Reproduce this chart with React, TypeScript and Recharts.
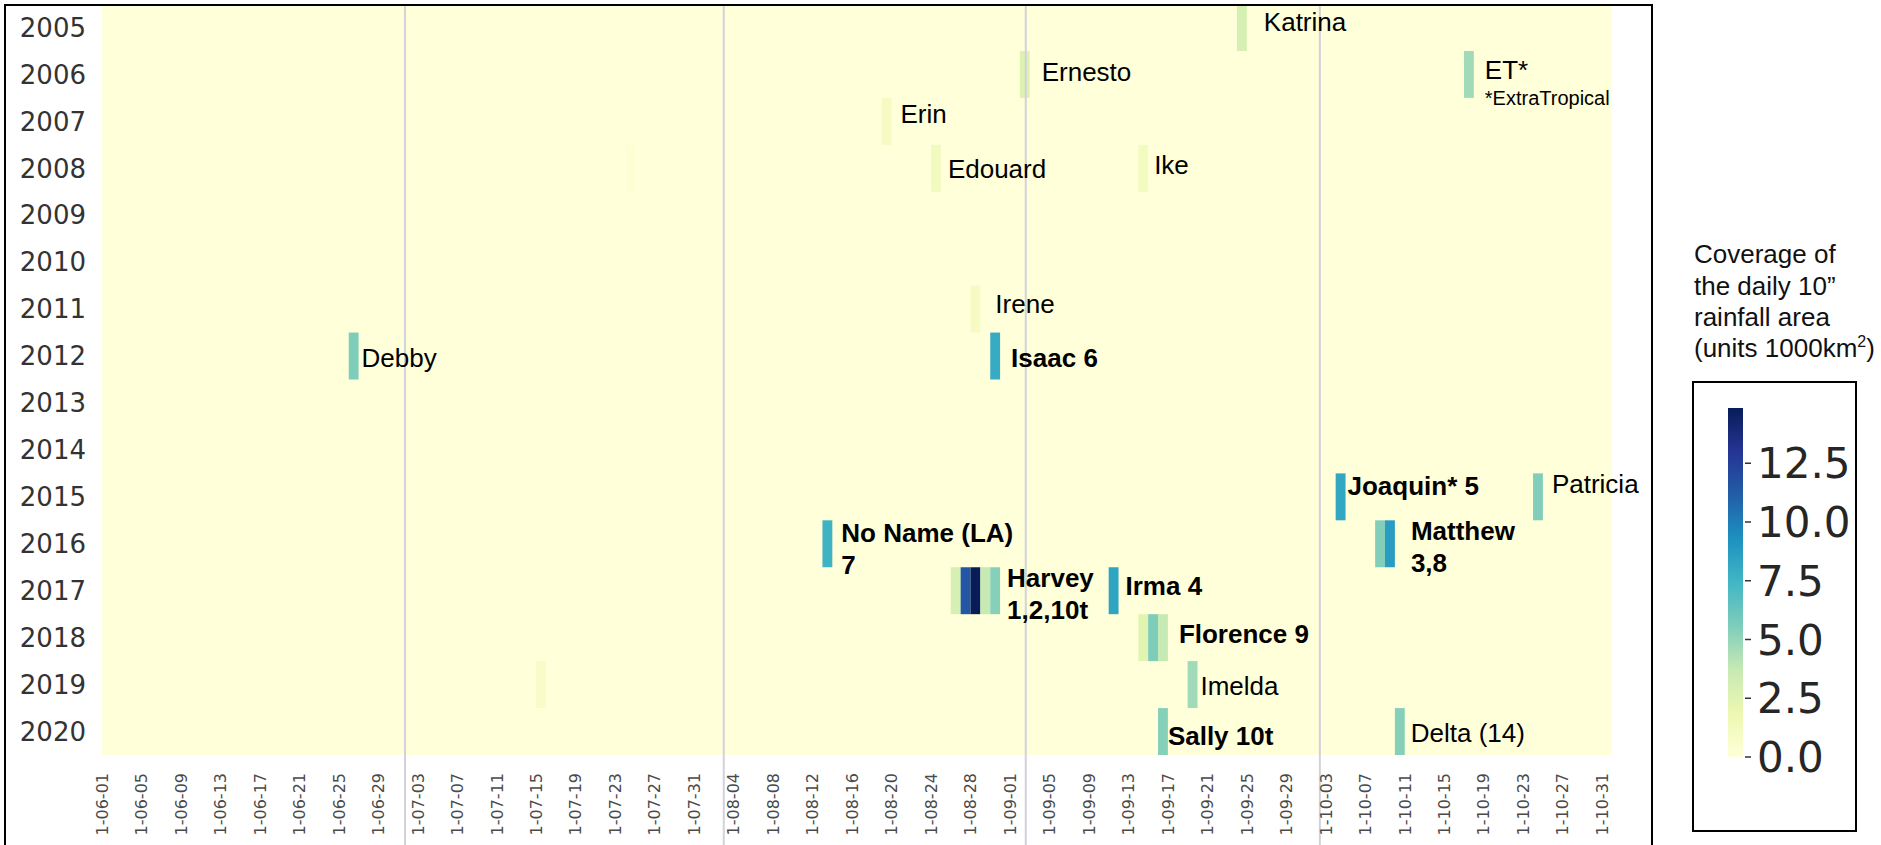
import React from 'react';
import { ScatterChart, Scatter, XAxis, YAxis, ReferenceArea, ReferenceLine } from 'recharts';

// rows and columns of the heatmap
const YEARS = [2005, 2006, 2007, 2008, 2009, 2010, 2011, 2012, 2013, 2014, 2015, 2016, 2017, 2018, 2019, 2020];
const DAY_COUNT = 153; // 1 June .. 31 October
const X_TICK_LABELS = [
  '1-06-01', '1-06-05', '1-06-09', '1-06-13', '1-06-17', '1-06-21', '1-06-25', '1-06-29',
  '1-07-03', '1-07-07', '1-07-11', '1-07-15', '1-07-19', '1-07-23', '1-07-27', '1-07-31',
  '1-08-04', '1-08-08', '1-08-12', '1-08-16', '1-08-20', '1-08-24', '1-08-28',
  '1-09-01', '1-09-05', '1-09-09', '1-09-13', '1-09-17', '1-09-21', '1-09-25', '1-09-29',
  '1-10-03', '1-10-07', '1-10-11', '1-10-15', '1-10-19', '1-10-23', '1-10-27', '1-10-31',
];

// non-zero cells: year, day index (0 = 06-01), coverage (1000 km2)
const CELL_YEAR = [2005, 2006, 2006, 2007, 2008, 2008, 2008, 2011, 2012, 2012, 2015, 2015, 2016, 2016, 2016,
  2017, 2017, 2017, 2017, 2017, 2017, 2018, 2018, 2018, 2019, 2019, 2020, 2020];
const CELL_DAY = [115, 93, 138, 79, 53, 84, 105, 88, 25, 90, 125, 145, 73, 129, 130,
  86, 87, 88, 89, 90, 102, 105, 106, 107, 44, 110, 107, 131];
const CELL_VALUE = [3.0, 2.6, 4.7, 1.0, 0.3, 1.2, 1.1, 1.0, 5.6, 8.0, 8.2, 5.5, 7.6, 5.5, 8.7,
  3.0, 11.5, 14.85, 3.7, 5.4, 8.3, 2.4, 5.6, 3.7, 0.8, 4.7, 5.4, 5.4];

// storm annotations
const LABEL_TEXT = ['Katrina', 'Ernesto', 'ET*', 'Erin', 'Edouard', 'Ike', 'Irene', 'Debby', 'Isaac 6', 'Joaquin* 5',
  'Patricia', 'No Name (LA)', 'Matthew', 'Harvey', 'Irma 4', 'Florence 9', 'Imelda', 'Sally 10t', 'Delta (14)'];
const LABEL_SUB = ['', '', '*ExtraTropical', '', '', '', '', '', '', '', '', '7', '3,8', '1,2,10t', '', '', '', '', ''];
const LABEL_YEAR = [2005, 2006, 2006, 2007, 2008, 2008, 2011, 2012, 2012, 2015, 2015, 2016, 2016, 2017, 2017, 2018, 2019, 2020, 2020];
const LABEL_DAY = [115, 93, 138, 79, 84, 105, 88, 25, 90, 125, 145, 73, 130, 90, 102, 107, 110, 107, 131];
const LABEL_BOLD = [false, false, false, false, false, false, false, false, true, true, false, true, true, true, true, true, false, true, false];

const GRID_DAYS = [30.7, 63.0, 93.6, 123.4];
const COLORBAR_TICKS = [0, 2.5, 5, 7.5, 10, 12.5];
const VMAX = 14.85;

const YLGNBU = ['#ffffd9', '#edf8b1', '#c7e9b4', '#7fcdbb', '#41b6c4', '#1d91c0', '#225ea8', '#253494', '#081d58'];

// label placement tweaks [dx, dy] in px
const LABEL_NUDGE: Record<string, number[]> = {
  Katrina: [8, -3], Ernesto: [3, 0], 'ET*': [2, 0], Erin: [0, -5], Edouard: [-2, 3], Ike: [-3, -1],
  Irene: [6, -2], Debby: [-6, 5], 'Isaac 6': [2, 5], 'Joaquin* 5': [-7, -8], Patricia: [0, -10],
  'No Name (LA)': [0, 2], Matthew: [7, 0], Harvey: [-2, 0], 'Irma 4': [-2, -2], 'Florence 9': [2, -1],
  Imelda: [-6, 4], 'Sally 10t': [-9, 7], 'Delta (14)': [-3, 4],
};

const W = 1881;
const H = 845;
const PLOT_LEFT = 102;
const PLOT_RIGHT = 1612;
const PLOT_TOP = 4;
const PLOT_BOTTOM = 755;

const hexToRgb = (h: string) => [1, 3, 5].map((i) => parseInt(h.slice(i, i + 2), 16));

function colorFor(v: number) {
  const t = Math.max(0, Math.min(1, v / VMAX)) * (YLGNBU.length - 1);
  const i = Math.min(Math.floor(t), YLGNBU.length - 2);
  const f = t - i;
  const a = hexToRgb(YLGNBU[i]);
  const b = hexToRgb(YLGNBU[i + 1]);
  const c = a.map((av, k) => Math.round(av + (b[k] - av) * f));
  return `rgb(${c[0]},${c[1]},${c[2]})`;
}

const cells = CELL_DAY.map((d, i) => ({ day: d, year: CELL_YEAR[i], value: CELL_VALUE[i] }));
const labels = LABEL_TEXT.map((t, i) => ({
  x: LABEL_DAY[i] + 1,
  y: LABEL_YEAR[i],
  text: t,
  sub: LABEL_SUB[i],
  bold: LABEL_BOLD[i],
}));

const XTick = (props: any) => {
  const { x, y, payload } = props;
  const label = X_TICK_LABELS[Math.round(payload.value / 4)];
  return (
    <text transform={`translate(${x},${y}) rotate(-90)`} textAnchor="end" dy="0.36em"
      fontSize={16} fill="#4a4a4a" fontFamily="DejaVu Sans">{label}</text>
  );
};

const LabelShape = (props: any) => {
  const { cx, cy, payload } = props;
  const n = LABEL_NUDGE[payload.text] || [0, 0];
  const x = cx + 9 + n[0];
  const font = 'Liberation Sans, Arial, sans-serif';
  const weight = payload.bold ? 700 : 400;
  if (payload.sub && payload.text === 'ET*') {
    return (
      <g>
        <text x={x} y={cy - 5 + n[1] + 9.4} fontSize={26} fontFamily={font} fill="#000">{payload.text}</text>
        <text x={x} y={cy + 24 + n[1] + 7} fontSize={20} fontFamily={font} fill="#000">{payload.sub}</text>
      </g>
    );
  }
  if (payload.sub) {
    return (
      <g>
        <text x={x} y={cy - 13 + n[1] + 9.4} fontSize={26} fontWeight={weight} fontFamily={font} fill="#000">{payload.text}</text>
        <text x={x} y={cy + 19 + n[1] + 9.4} fontSize={26} fontWeight={weight} fontFamily={font} fill="#000">{payload.sub}</text>
      </g>
    );
  }
  return (
    <text x={x} y={cy - 3 + n[1] + 9.4} fontSize={26} fontWeight={weight} fontFamily={font} fill="#000">{payload.text}</text>
  );
};

const GridShape = (props: any) => {
  const top = Math.min(props.y1, props.y2);
  return <line x1={props.x1} x2={props.x2} y1={top} y2={H} stroke="#d2d2da" strokeWidth={2} />;
};

function ColorBar() {
  const barTop = 408;
  const barBottom = 757;
  const yOf = (v: number) => barBottom - (v / VMAX) * (barBottom - barTop);
  const font = 'Liberation Sans, Arial, sans-serif';
  return (
    <svg width={W} height={H} style={{ position: 'absolute', left: 0, top: 0, pointerEvents: 'none' }}>
      <defs>
        <linearGradient id="ylgnbu" x1="0" y1="1" x2="0" y2="0">
          {YLGNBU.map((c, i) => (
            <stop key={i} offset={i / (YLGNBU.length - 1)} stopColor={c} />
          ))}
        </linearGradient>
      </defs>
      {/* chart frame */}
      <rect x={5} y={5} width={1647} height={H + 20} fill="none" stroke="#000" strokeWidth={2} />
      {/* colour bar title */}
      <g fontFamily={font} fontSize={26} fill="#111">
        <text x={1694} y={263}>Coverage of</text>
        <text x={1694} y={295}>the daily 10”</text>
        <text x={1694} y={326}>rainfall area</text>
        <text x={1694} y={357}>
          (units 1000km<tspan dy={-10} fontSize={16}>2</tspan><tspan dy={10}>)</tspan>
        </text>
      </g>
      <rect x={1693} y={382} width={163} height={449} fill="#fff" stroke="#000" strokeWidth={2} />
      <rect x={1728} y={barTop} width={15} height={barBottom - barTop} fill="url(#ylgnbu)" />
      {COLORBAR_TICKS.map((v) => (
        <g key={v}>
          <line x1={1745} x2={1751} y1={yOf(v)} y2={yOf(v)} stroke="#333" strokeWidth={1.5} />
          <text x={1757} y={yOf(v)} dy="0.36em" fontSize={42} fontFamily="DejaVu Sans" fill="#262626">
            {v.toFixed(1)}
          </text>
        </g>
      ))}
    </svg>
  );
}

export default function App() {
  return (
    <div style={{ position: 'absolute', left: 0, top: 0, width: W, height: H, background: '#fff', overflow: 'hidden' }}>
      <ScatterChart
        width={W}
        height={H}
        margin={{ top: PLOT_TOP, right: W - PLOT_RIGHT, bottom: 0, left: 0 }}
      >
        <XAxis
          type="number"
          dataKey="x"
          domain={[0, DAY_COUNT]}
          ticks={X_TICK_LABELS.map((_, i) => i * 4)}
          interval={0}
          height={H - PLOT_BOTTOM}
          tickLine={false}
          axisLine={false}
          tickSize={0}
          tickMargin={18}
          tick={<XTick />}
        />
        <YAxis
          type="number"
          dataKey="y"
          domain={[YEARS[0] - 0.5, YEARS[YEARS.length - 1] + 0.5]}
          reversed
          ticks={YEARS}
          interval={0}
          width={PLOT_LEFT}
          tickLine={false}
          axisLine={false}
          tickSize={0}
          tickMargin={16}
          tick={{ fontSize: 26, fill: '#333', fontFamily: 'DejaVu Sans' }}
        />
        <ReferenceArea
          x1={0}
          x2={DAY_COUNT}
          y1={YEARS[0] - 0.5}
          y2={YEARS[YEARS.length - 1] + 0.5}
          fill={colorFor(0)}
          fillOpacity={1}
          stroke="none"
        />
        {cells.map((c, i) => (
          <ReferenceArea
            key={i}
            x1={c.day}
            x2={c.day + 1}
            y1={c.year - 0.5}
            y2={c.year + 0.5}
            fill={colorFor(c.value)}
            fillOpacity={1}
            stroke="none"
          />
        ))}
        {GRID_DAYS.map((d) => (
          <ReferenceLine key={d} x={d} shape={<GridShape />} />
        ))}
        <Scatter data={labels} shape={<LabelShape />} isAnimationActive={false} />
      </ScatterChart>
      <ColorBar />
    </div>
  );
}
